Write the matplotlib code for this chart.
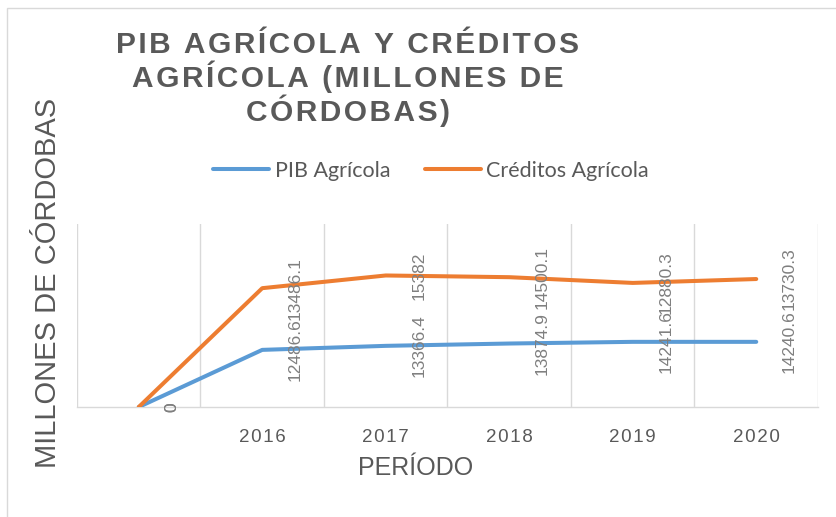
import numpy as np
import matplotlib.pyplot as plt
from matplotlib.patches import Rectangle

# datos (millones de córdobas)
periodos = ['', '2016', '2017', '2018', '2019', '2020']
pib_agricola = [0, 12486.6, 13366.4, 13874.9, 14241.6, 14240.6]
creditos_agricola = [0, 13486.1, 15382, 14500.1, 12880.3, 13730.3]

azul = '#5B9BD5'
naranja = '#ED7D31'
gris_txt = '#595959'
gris_lbl = '#7F7F7F'
gris_rej = '#D9D9D9'

HS = '\u200a'  # espacio fino para imitar el espaciado de letras


def espaciar(t):
    return HS.join(t)


W, H = 837, 517
fig = plt.figure(figsize=(W / 100, H / 100), dpi=100)

# borde del área del gráfico
fig.patches.append(Rectangle((7 / W, -0.1), 1.2, 1 - 8 / H + 0.1, transform=fig.transFigure,
                             fill=False, edgecolor=gris_rej, lw=1))

ax = fig.add_axes([77 / W, (H - 407) / H, (818 - 77) / W, (407 - 224) / H])

x = np.arange(len(periodos))
pib = np.array(pib_agricola)
cred = np.array(creditos_agricola)
apilado = pib + cred  # líneas apiladas

l1, = ax.plot(x, pib, color=azul, lw=2.9, solid_capstyle='round', solid_joinstyle='round',
              label='PIB Agrícola', zorder=3)
l2, = ax.plot(x, apilado, color=naranja, lw=2.9, solid_capstyle='round', solid_joinstyle='round',
              label='Créditos Agrícola', zorder=3)

# etiquetas de datos
for xi, yi, v in zip(x, pib, pib_agricola):
    ax.annotate(f'{v:g}', (xi, yi), xytext=(33, 0), textcoords='offset pixels',
                rotation=90, ha='center', va='center', color=gris_lbl,
                fontsize=12.5, family='Liberation Sans', zorder=4)
for xi, yi, v in zip(x, apilado, creditos_agricola):
    ax.annotate(f'{v:g}', (xi, yi), xytext=(33, 0), textcoords='offset pixels',
                rotation=90, ha='center', va='center', color=gris_lbl,
                fontsize=12.5, family='Liberation Sans', zorder=4)

ax.set_xlim(-0.5, len(periodos) - 0.5)
ax.set_ylim(0, 40000)
ax.set_xticks(x)
ax.set_xticklabels([espaciar(p) for p in periodos], fontsize=13.5, color=gris_txt,
                   family=['Liberation Sans', 'DejaVu Sans'])
ax.set_xticks(np.arange(-0.5, len(periodos), 1), minor=True)
ax.set_yticks([])
ax.tick_params(axis='x', which='both', length=0, pad=16)
ax.grid(True, which='minor', axis='x', color=gris_rej, lw=1)
for s in ['top', 'right', 'left']:
    ax.spines[s].set_visible(False)
ax.spines['bottom'].set_color(gris_rej)
ax.spines['bottom'].set_linewidth(1)

titulo = ['PIB AGRÍCOLA Y CRÉDITOS', 'AGRÍCOLA (MILLONES DE', 'CÓRDOBAS)']
fig.text(348 / W, 1 - 79 / H, '\n'.join(espaciar(t) for t in titulo),
         ha='center', va='center', multialignment='center', fontsize=21.5,
         fontweight='bold', color=gris_txt, linespacing=1.05,
         family=['Liberation Sans', 'DejaVu Sans'])

fig.text(48 / W, 1 - 283 / H, 'MILLONES DE CÓRDOBAS', rotation=90, ha='center', va='center',
         fontsize=21, color=gris_txt, family='Liberation Sans')
fig.text(416 / W, 1 - 468 / H, 'PERÍODO', ha='center', va='center',
         fontsize=18, color=gris_txt, family='Liberation Sans')

fig.legend(handles=[l1, l2], loc='center', bbox_to_anchor=(431 / W, 1 - 171 / H), ncol=2,
           frameon=False, handlelength=2.6, handletextpad=0.25,
           columnspacing=1.6, prop={'family': 'Lato', 'size': 15.5}, labelcolor=gris_txt)

fig.savefig('out.png', dpi=100)
